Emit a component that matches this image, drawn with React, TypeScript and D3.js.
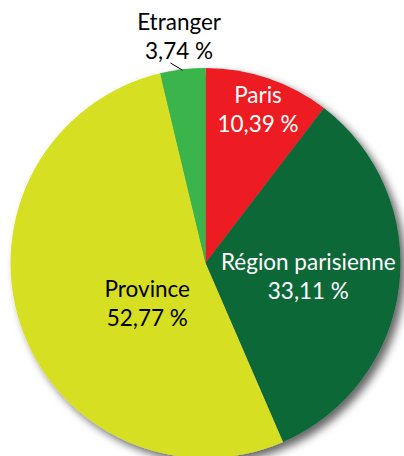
import React from "react";
import * as d3 from "d3";

const categories = ["Paris", "Région parisienne", "Province", "Etranger"];
const values = [10.39, 33.11, 52.77, 3.74];
const valueLabels = ["10,39 %", "33,11 %", "52,77 %", "3,74 %"];
const colors = ["#ED1C24", "#0F6838", "#D6DF23", "#3BB54B"];
const textColors = ["#ffffff", "#ffffff", "#000000", "#000000"];
// label placement (radius in px, angle in degrees clockwise from top)
const labelPlacement = [
  { r: 155, a: 19.8 },
  { r: 105, a: 101.6 },
  { r: 76, a: 230 },
  { r: 220, a: -6.9 },
];

const W = 404;
const H = 456;
const cx = 205.5;
const cy = 263;
const R = 195;

export default function App() {
  const pie = d3.pie<number>().sort(null).value((d) => d);
  const arcs = pie(values);
  const arcGen = d3.arc<d3.PieArcDatum<number>>().innerRadius(0).outerRadius(R);
  const font = "Lato, 'Open Sans', sans-serif";

  const et = arcs[3];
  const etMid = (et.startAngle + et.endAngle) / 2;
  const lineStart = [Math.sin(etMid) * (R - 1), -Math.cos(etMid) * (R - 1)];

  return (
    <svg width={W} height={H} style={{ position: "absolute", left: 0, top: 0 }}>
      <defs>
        <filter id="shadow" x="-20%" y="-20%" width="140%" height="140%">
          <feDropShadow dx="5" dy="5" stdDeviation="4" floodColor="#000" floodOpacity="0.6" />
        </filter>
      </defs>
      <g transform={`translate(${cx},${cy})`}>
        <g filter="url(#shadow)">
          {arcs.map((a, i) => (
            <path key={i} d={arcGen(a) || ""} fill={colors[i]} />
          ))}
        </g>
        <line
          x1={lineStart[0]}
          y1={lineStart[1]}
          x2={-35}
          y2={-200}
          stroke="#000"
          strokeWidth={1}
        />
        {arcs.map((a, i) => {
          const p = labelPlacement[i];
          const ang = (p.a * Math.PI) / 180;
          const x = Math.sin(ang) * p.r;
          const y = -Math.cos(ang) * p.r;
          return (
            <text
              key={i}
              x={x}
              y={y}
              textAnchor="middle"
              fill={textColors[i]}
              fontFamily={font}
              fontSize={22.5}
            >
              <tspan x={x} dy={-14.5}>{categories[i]}</tspan>
              <tspan x={x} dy={29}>{valueLabels[i]}</tspan>
            </text>
          );
        })}
      </g>
    </svg>
  );
}
